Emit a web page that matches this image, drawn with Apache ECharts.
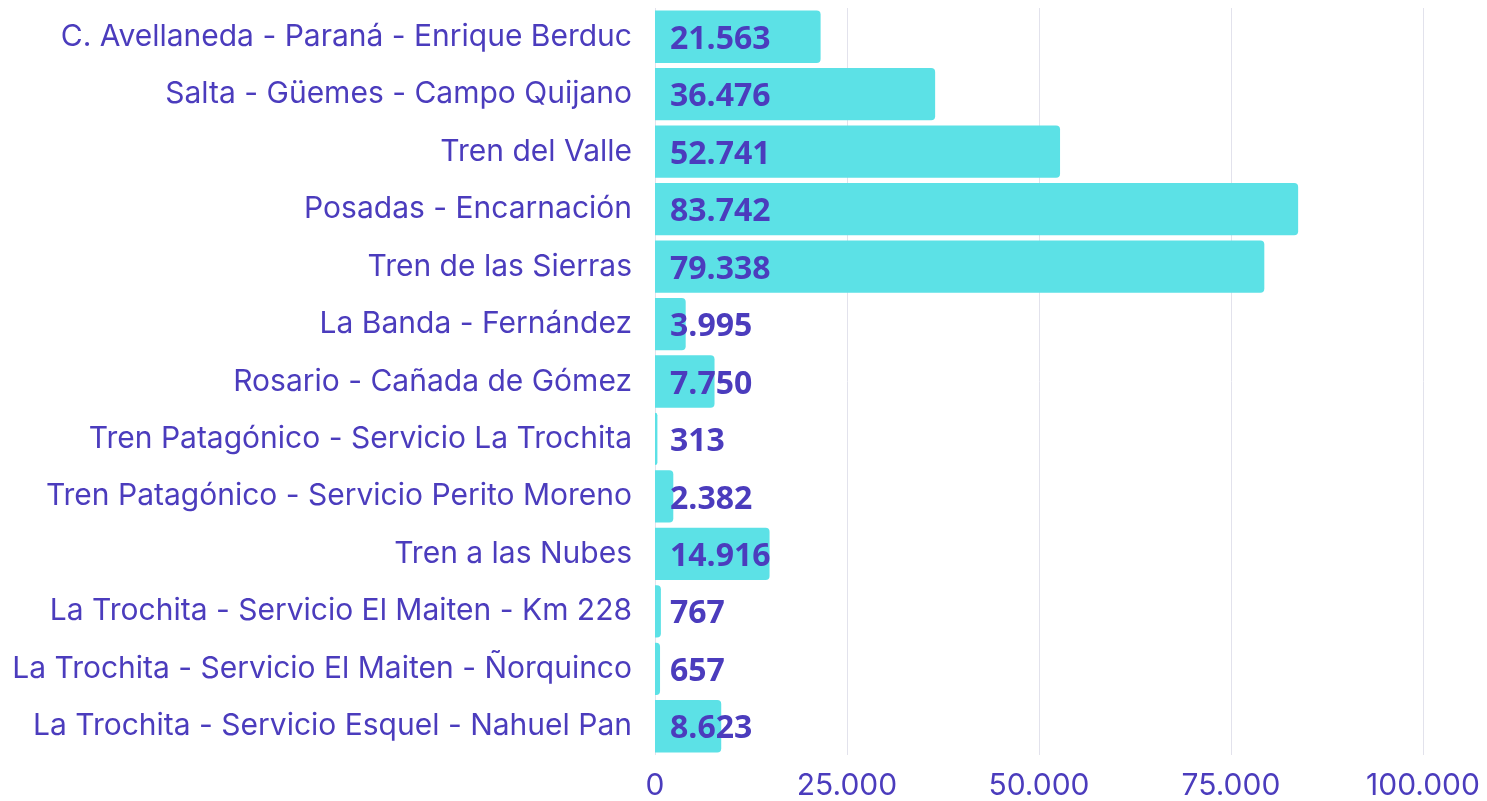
<!DOCTYPE html>
<html>
<head>
<meta charset="utf-8">
<script src="https://cdn.jsdelivr.net/npm/echarts@6/dist/echarts.min.js"></script>
<style>
  html, body { margin: 0; padding: 0; background: #fff; }
  #chart { width: 1487px; height: 801px; }
</style>
</head>
<body>
<div id="chart"></div>
<script>
// Pasajeros por servicio
const categories = [
  "C. Avellaneda - Paraná - Enrique Berduc",
  "Salta - Güemes - Campo Quijano",
  "Tren del Valle",
  "Posadas - Encarnación",
  "Tren de las Sierras",
  "La Banda - Fernández",
  "Rosario - Cañada de Gómez",
  "Tren Patagónico - Servicio La Trochita",
  "Tren Patagónico - Servicio Perito Moreno",
  "Tren a las Nubes",
  "La Trochita - Servicio El Maiten - Km 228",
  "La Trochita - Servicio El Maiten - Ñorquinco",
  "La Trochita - Servicio Esquel - Nahuel Pan"
];
const values = [21563, 36476, 52741, 83742, 79338, 3995, 7750, 313, 2382, 14916, 767, 657, 8623];

const purple = "#4b3cbd";
const fmt = (v) => String(v).replace(/\B(?=(\d{3})+(?!\d))/g, ".");

const chart = echarts.init(document.getElementById("chart"), null, { renderer: "canvas" });

const option = {
  animation: false,
  grid: { left: 655, right: 64, top: 8, bottom: 45 },
  xAxis: {
    type: "value",
    min: 0,
    max: 100000,
    interval: 25000,
    axisLine: { show: false },
    axisTick: { show: false },
    splitLine: { lineStyle: { color: "#e2e2ec", width: 1 } },
    axisLabel: {
      color: purple,
      fontFamily: "Inter",
      fontSize: 30,
      margin: 16,
      formatter: (v) => fmt(v),
    },
  },
  yAxis: {
    type: "category",
    inverse: true,
    data: categories,
    axisLine: { show: false },
    axisTick: { show: false },
    axisLabel: {
      color: purple,
      fontFamily: "Inter",
      fontSize: 30,
      margin: 23,
    },
  },
  series: [
    {
      type: "bar",
      data: values,
      barCategoryGap: "9%",
      itemStyle: {
        color: "#5ce1e6",
        borderRadius: [0, 4, 4, 0],
      },
      label: {
        show: true,
        position: "insideLeft",
        distance: 15,
        offset: [0, 3],
        color: purple,
        fontFamily: "Open Sans",
        fontWeight: "bold",
        fontSize: 32,
        formatter: (p) => fmt(p.value),
      },
    },
  ],
};

chart.setOption(option);
</script>
</body>
</html>
